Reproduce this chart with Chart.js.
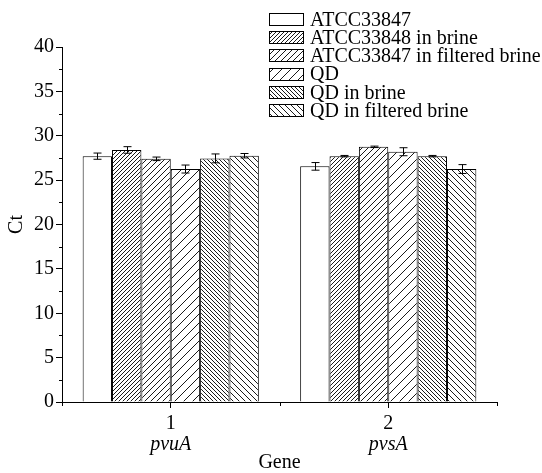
<!DOCTYPE html>
<html>
<head>
<meta charset="utf-8">
<script src="https://cdn.jsdelivr.net/npm/chart.js@4"></script>
<style>
  html, body { margin: 0; padding: 0; background: #fff; }
  #wrap { width: 542px; height: 473px; }
</style>
</head>
<body>
<div id="wrap"><canvas id="ctChart" width="542" height="473"></canvas></div>
<script>
// data
const tickLabels = ['1', '2'];
const geneNames = ['pvuA', 'pvsA'];
const seriesNames = ['ATCC33847', 'ATCC33848 in brine', 'ATCC33847 in filtered brine', 'QD', 'QD in brine', 'QD in filtered brine'];
const atcc = [27.7, 26.55];
const atccBrine = [28.4, 27.7];
const atccFiltered = [27.4, 28.75];
const qd = [26.25, 28.2];
const qdBrine = [27.45, 27.7];
const qdFiltered = [27.75, 26.25];
const atccErr = [0.35, 0.43];
const atccBrineErr = [0.37, 0.08];
const atccFilteredErr = [0.2, 0.08];
const qdErr = [0.45, 0.45];
const qdBrineErr = [0.5, 0.08];
const qdFilteredErr = [0.25, 0.5];
const yTicks = [0, 5, 10, 15, 20, 25, 30, 35, 40];

const serif = '"Liberation Serif", "DejaVu Serif", serif';
const fontSize = 20;

// hatch pattern: dir 1 = "/" , -1 = "\" , 0 = none
function hatch(spacing, dir) {
  const c = document.createElement('canvas');
  c.width = spacing; c.height = spacing;
  const g = c.getContext('2d');
  g.fillStyle = '#fff';
  g.fillRect(0, 0, spacing, spacing);
  if (dir !== 0) {
    g.strokeStyle = '#000';
    g.lineWidth = 0.9;
    g.beginPath();
    for (let k = -spacing; k <= spacing; k += spacing) {
      if (dir > 0) {
        g.moveTo(k, spacing); g.lineTo(k + spacing, 0);
      } else {
        g.moveTo(k, 0); g.lineTo(k + spacing, spacing);
      }
    }
    g.stroke();
  }
  return document.getElementById('ctChart').getContext('2d').createPattern(c, 'repeat');
}

const fills = [hatch(4, 0), hatch(4, 1), hatch(6, 1), hatch(9, 1), hatch(4, -1), hatch(6, -1)];
const values = [atcc, atccBrine, atccFiltered, qd, qdBrine, qdFiltered];
const errors = [atccErr, atccBrineErr, atccFilteredErr, qdErr, qdBrineErr, qdFilteredErr];

const datasets = seriesNames.map((name, i) => ({
  label: name,
  data: values[i],
  err: errors[i],
  backgroundColor: fills[i],
  borderColor: '#000',
  borderWidth: 1,
  borderSkipped: 'bottom',
  categoryPercentage: 0.81,
  barPercentage: 1.0,
}));

// error bars, minor ticks, gene names and legend
const extras = {
  id: 'extras',
  afterDatasetsDraw(chart) {
    const ctx = chart.ctx;
    const y = chart.scales.y;
    ctx.save();
    ctx.strokeStyle = '#000';
    ctx.lineWidth = 1;
    chart.data.datasets.forEach((ds, i) => {
      chart.getDatasetMeta(i).data.forEach((bar, j) => {
        const v = ds.data[j], e = ds.err[j];
        const top = y.getPixelForValue(v + e), bot = y.getPixelForValue(v - e);
        const x = Math.round(bar.x) + 0.5;
        ctx.beginPath();
        ctx.moveTo(x, top); ctx.lineTo(x, bot);
        ctx.moveTo(x - 4, top); ctx.lineTo(x + 4, top);
        ctx.moveTo(x - 4, bot); ctx.lineTo(x + 4, bot);
        ctx.stroke();
      });
    });
    ctx.restore();
  },
  afterDraw(chart) {
    const ctx = chart.ctx;
    const x = chart.scales.x, y = chart.scales.y;
    ctx.save();
    ctx.strokeStyle = '#000';
    ctx.lineWidth = 1;
    // minor ticks on y
    ctx.beginPath();
    for (let v = 2.5; v < 40; v += 5) {
      const py = Math.round(y.getPixelForValue(v)) + 0.5;
      ctx.moveTo(x.left - 3, py); ctx.lineTo(x.left, py);
    }
    // minor ticks on x (between groups and at ends)
    [x.left, (x.left + x.right) / 2, x.right].forEach(px => {
      px = Math.round(px) + 0.5;
      ctx.moveTo(px, y.bottom); ctx.lineTo(px, y.bottom + 4);
    });
    ctx.stroke();

    // italic gene names
    ctx.fillStyle = '#000';
    ctx.font = 'italic ' + fontSize + 'px ' + serif;
    ctx.textAlign = 'center';
    ctx.textBaseline = 'middle';
    geneNames.forEach((g, i) => {
      ctx.fillText(g, x.getPixelForValue(i), y.bottom + 43);
    });

    // legend
    ctx.font = fontSize + 'px ' + serif;
    ctx.textAlign = 'left';
    chart.data.datasets.forEach((ds, i) => {
      const cy = 19 + i * 18.2;
      const top = Math.round(cy - 6) + 0.5;
      ctx.fillStyle = ds.backgroundColor;
      ctx.fillRect(269.5, top, 34, 12);
      ctx.strokeRect(269.5, top, 34, 12);
      ctx.fillStyle = '#000';
      ctx.fillText(ds.label, 310, cy + 1.5);
    });
    ctx.restore();
  }
};

new Chart(document.getElementById('ctChart'), {
  type: 'bar',
  data: { labels: tickLabels, datasets: datasets },
  plugins: [extras],
  options: {
    responsive: false,
    animation: false,
    layout: { padding: { top: 47, right: 45, left: 5, bottom: 0 } },
    plugins: { legend: { display: false }, tooltip: { enabled: false } },
    scales: {
      x: {
        grid: { display: true, drawOnChartArea: false, offset: false, tickLength: 6, color: '#000' },
        border: { display: true, color: '#000', width: 1 },
        ticks: { color: '#000', font: { family: serif, size: fontSize }, padding: 4 },
        title: { display: true, text: 'Gene', color: '#000', font: { family: serif, size: fontSize, lineHeight: 1.0 }, padding: { top: 13, bottom: 0 } }
      },
      y: {
        min: 0, max: 40,
        afterBuildTicks: (s) => { s.ticks = yTicks.map(v => ({ value: v })); },
        grid: { display: true, drawOnChartArea: false, tickLength: 6, color: '#000' },
        border: { display: true, color: '#000', width: 1 },
        ticks: { color: '#000', font: { family: serif, size: fontSize }, padding: 2 },
        title: { display: true, text: 'Ct', color: '#000', font: { family: serif, size: fontSize }, padding: { top: 0, bottom: 3 } }
      }
    }
  }
});
</script>
</body>
</html>
